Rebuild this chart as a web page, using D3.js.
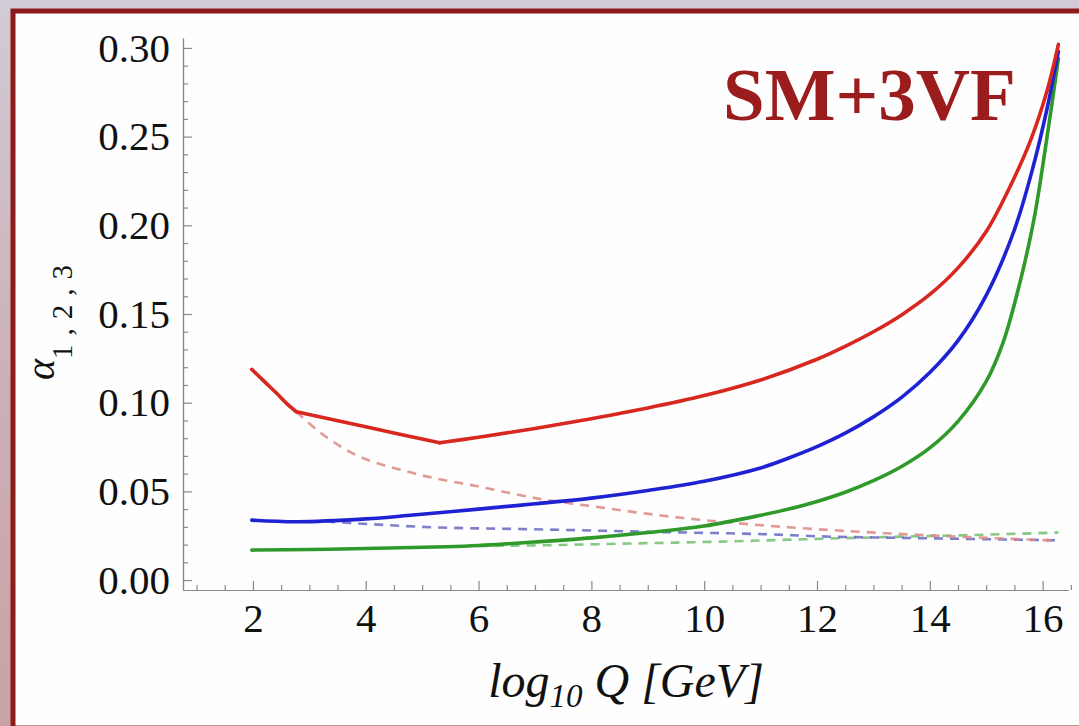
<!DOCTYPE html>
<html>
<head>
<meta charset="utf-8">
<script src="https://cdnjs.cloudflare.com/ajax/libs/d3/7.8.5/d3.min.js"></script>
<style>
    body { margin: 0; background: #d2cbd5; }
    svg { display: block; }
    .tick text { font-family: "Liberation Serif", "DejaVu Serif", serif; fill: #111; }
</style>
</head>
<body>
<div id="chart"></div>
<script>
// x values are log10 Q [GeV], y values are the couplings alpha
var qRed = [1.98, 2.2, 2.42, 2.6, 2.77, 4.0, 5.31, 6.0, 7.0, 8.0, 9.0, 10.0, 11.0, 12.0, 12.5, 13.0, 13.5, 14.0, 14.5, 15.0, 15.5, 15.8, 16.08, 16.28];
var alphaRed = [0.1188, 0.112, 0.1053, 0.0995, 0.0949, 0.0864, 0.0774, 0.0805, 0.0855, 0.0910, 0.0970, 0.1040, 0.1128, 0.1245, 0.1318, 0.1400, 0.1495, 0.1610, 0.1760, 0.1965, 0.2270, 0.2490, 0.2760, 0.3020];
var redKinks = [2.77, 5.31];

var qBlue = [1.98, 2.77, 4.0, 4.84, 6.0, 7.0, 8.0, 9.0, 10.0, 11.0, 11.5, 12.0, 12.5, 13.0, 13.5, 14.0, 14.5, 15.0, 15.5, 15.84, 16.08, 16.28];
var alphaBlue = [0.0338, 0.0329, 0.0345, 0.0367, 0.0400, 0.0430, 0.0462, 0.0505, 0.0557, 0.0632, 0.0688, 0.0752, 0.0828, 0.0920, 0.1030, 0.1170, 0.1350, 0.1605, 0.1975, 0.2340, 0.2660, 0.2980];

var qGreen = [1.98, 3.0, 4.0, 5.43, 6.0, 7.0, 8.0, 9.0, 10.0, 11.0, 11.5, 12.0, 12.5, 13.0, 13.5, 14.0, 14.5, 15.0, 15.3, 15.6, 15.85, 16.07, 16.28];
var alphaGreen = [0.0169, 0.0172, 0.0178, 0.0188, 0.0195, 0.0215, 0.0238, 0.0268, 0.0305, 0.0365, 0.0400, 0.0443, 0.0495, 0.0560, 0.0640, 0.0745, 0.0895, 0.1120, 0.1340, 0.1680, 0.2040, 0.2480, 0.2940];

// dashed curves (no vector fermions)
var qRedDash = [2.77, 3.2, 3.66, 4.84, 6.02, 7.21, 7.85, 9.62, 11.4, 13.17, 14.7, 16.28];
var alphaRedDash = [0.0949, 0.0830, 0.0733, 0.0603, 0.0526, 0.0451, 0.0423, 0.0350, 0.0300, 0.0265, 0.0242, 0.0222];

var qBlueDash = [3.3, 3.66, 5.0, 7.21, 9.0, 11.4, 12.0, 13.5, 16.28];
var alphaBlueDash = [0.0330, 0.0323, 0.0300, 0.0285, 0.0272, 0.0255, 0.0247, 0.0238, 0.0224];

var qGreenDash = [6.0, 7.27, 8.5, 10.2, 12.0, 13.17, 14.5, 16.28];
var alphaGreenDash = [0.0192, 0.0197, 0.0205, 0.0216, 0.0232, 0.0242, 0.0252, 0.0268];

var xMajorTicks = [2, 4, 6, 8, 10, 12, 14, 16];
var yMajorTicks = [0.00, 0.05, 0.10, 0.15, 0.20, 0.25, 0.30];

var svgWidth = 1079;
var svgHeight = 726;

var svg = d3.select("#chart")
    .append("svg")
    .attr("width", svgWidth)
    .attr("height", svgHeight);

// background: dusty strip on the left, red framed white panel
var grad = svg.append("defs").append("linearGradient")
    .attr("id", "leftStrip")
    .attr("x1", 0).attr("y1", 0).attr("x2", 0).attr("y2", 1);
grad.append("stop").attr("offset", "0%").attr("stop-color", "#d2cbd5");
grad.append("stop").attr("offset", "45%").attr("stop-color", "#cdb3bb");
grad.append("stop").attr("offset", "100%").attr("stop-color", "#c8a2a4");

svg.append("rect")
    .attr("x", 0).attr("y", 0)
    .attr("width", 14).attr("height", svgHeight)
    .attr("fill", "url(#leftStrip)");

svg.append("rect")
    .attr("x", 13).attr("y", 11)
    .attr("width", svgWidth + 20).attr("height", 717)
    .attr("fill", "#fefefe")
    .attr("stroke", "#8c1c1a")
    .attr("stroke-width", 5);

// scales
var xScale = d3.scaleLinear()
    .domain([0.76, 16.45])
    .range([183, 1068]);

var yScale = d3.scaleLinear()
    .domain([-0.0056, 0.3056])
    .range([590, 38]);

// minor ticks
var xMinor = d3.range(1, 16.6, 0.5).filter(v => xMajorTicks.indexOf(v) < 0);
var yMinor = d3.range(0, 31).map(i => i / 100).filter(v => Math.round(v * 100) % 5 != 0);

var axisColor = "#8a8a8a";

var yAxisMinor = svg.append("g")
    .attr("transform", "translate(183, 0)")
    .call(d3.axisLeft(yScale).tickValues(yMinor).tickSize(-5).tickSizeOuter(0).tickFormat(""));

var yAxis = svg.append("g")
    .attr("transform", "translate(183, 0)")
    .call(d3.axisLeft(yScale)
        .tickValues(yMajorTicks)
        .tickSize(-9)
        .tickSizeOuter(0)
        .tickPadding(13)
        .tickFormat(d3.format(".2f")));

var xAxisMinor = svg.append("g")
    .attr("transform", "translate(0, 590)")
    .call(d3.axisBottom(xScale).tickValues(xMinor).tickSize(-5).tickSizeOuter(0).tickFormat(""));

var xAxis = svg.append("g")
    .attr("transform", "translate(0, 590)")
    .call(d3.axisBottom(xScale)
        .tickValues(xMajorTicks)
        .tickSize(-9)
        .tickSizeOuter(0)
        .tickPadding(13));

[yAxisMinor, yAxis, xAxisMinor, xAxis].forEach(g => {
    g.selectAll("path, line").attr("stroke", axisColor).attr("stroke-width", 1.2);
});
yAxis.selectAll("text").attr("font-size", 41);
xAxis.selectAll("text").attr("font-size", 41);

// curves
var smoothLine = d3.line()
    .x(d => xScale(d[0]))
    .y(d => yScale(d[1]))
    .curve(d3.curveCatmullRom.alpha(0.5));

var dashLine = d3.line()
    .x(d => xScale(d[0]))
    .y(d => yScale(d[1]))
    .curve(d3.curveMonotoneX);

function pairs(xs, ys) {
    return xs.map((x, i) => [x, ys[i]]);
}

// split the red curve at the thresholds so the kinks stay sharp
function splitAt(points, kinks) {
    var segs = [];
    var cur = [];
    points.forEach(p => {
        cur.push(p);
        if (kinks.indexOf(p[0]) >= 0) {
            segs.push(cur);
            cur = [p];
        }
    });
    if (cur.length > 1) segs.push(cur);
    return segs;
}

var plot = svg.append("g").attr("class", "curves");

var dashed = [
    { pts: pairs(qGreenDash, alphaGreenDash), color: "#6fbf6f" },
    { pts: pairs(qBlueDash, alphaBlueDash), color: "#6868c0" },
    { pts: pairs(qRedDash, alphaRedDash), color: "#dc8a84" }
];

plot.selectAll(".dashLine")
    .data(dashed)
    .enter()
    .append("path")
    .attr("class", "dashLine")
    .attr("d", d => dashLine(d.pts))
    .attr("fill", "none")
    .attr("stroke", d => d.color)
    .attr("stroke-width", 2.6)
    .attr("stroke-dasharray", "9,7")
    .attr("opacity", 0.85);

var solid = [
    { pts: pairs(qGreen, alphaGreen), color: "#2f9a2a" },
    { pts: pairs(qBlue, alphaBlue), color: "#1f22d2" }
];
splitAt(pairs(qRed, alphaRed), redKinks).forEach(seg => {
    solid.push({ pts: seg, color: "#d8271f" });
});

plot.selectAll(".solidLine")
    .data(solid)
    .enter()
    .append("path")
    .attr("class", "solidLine")
    .attr("d", d => smoothLine(d.pts))
    .attr("fill", "none")
    .attr("stroke", d => d.color)
    .attr("stroke-width", 3.6)
    .attr("stroke-linejoin", "round")
    .attr("stroke-linecap", "round");

// axis labels
var yLabel = svg.append("text")
    .attr("transform", "translate(54, 318) rotate(-90)")
    .attr("text-anchor", "middle")
    .attr("font-family", "Liberation Serif, serif")
    .attr("fill", "#111");
yLabel.append("tspan")
    .attr("font-size", 40)
    .attr("font-style", "italic")
    .text("α");
yLabel.append("tspan")
    .attr("font-size", 29)
    .attr("dy", 18)
    .attr("letter-spacing", 9)
    .text("1,2,3");

var xLabel = svg.append("text")
    .attr("x", 626)
    .attr("y", 697)
    .attr("text-anchor", "middle")
    .attr("font-family", "Liberation Serif, serif")
    .attr("font-style", "italic")
    .attr("font-size", 48)
    .attr("fill", "#111");
xLabel.append("tspan").text("log");
xLabel.append("tspan").attr("font-size", 33).attr("dy", 10).text("10");
xLabel.append("tspan").attr("dy", -10).text(" Q [GeV]");

// model name
svg.append("text")
    .attr("x", 723)
    .attr("y", 120)
    .attr("font-family", "Liberation Serif, serif")
    .attr("font-weight", "bold")
    .attr("font-size", 75)
    .attr("fill", "#9b1c1c")
    .text("SM+3VF");
</script>
</body>
</html>
